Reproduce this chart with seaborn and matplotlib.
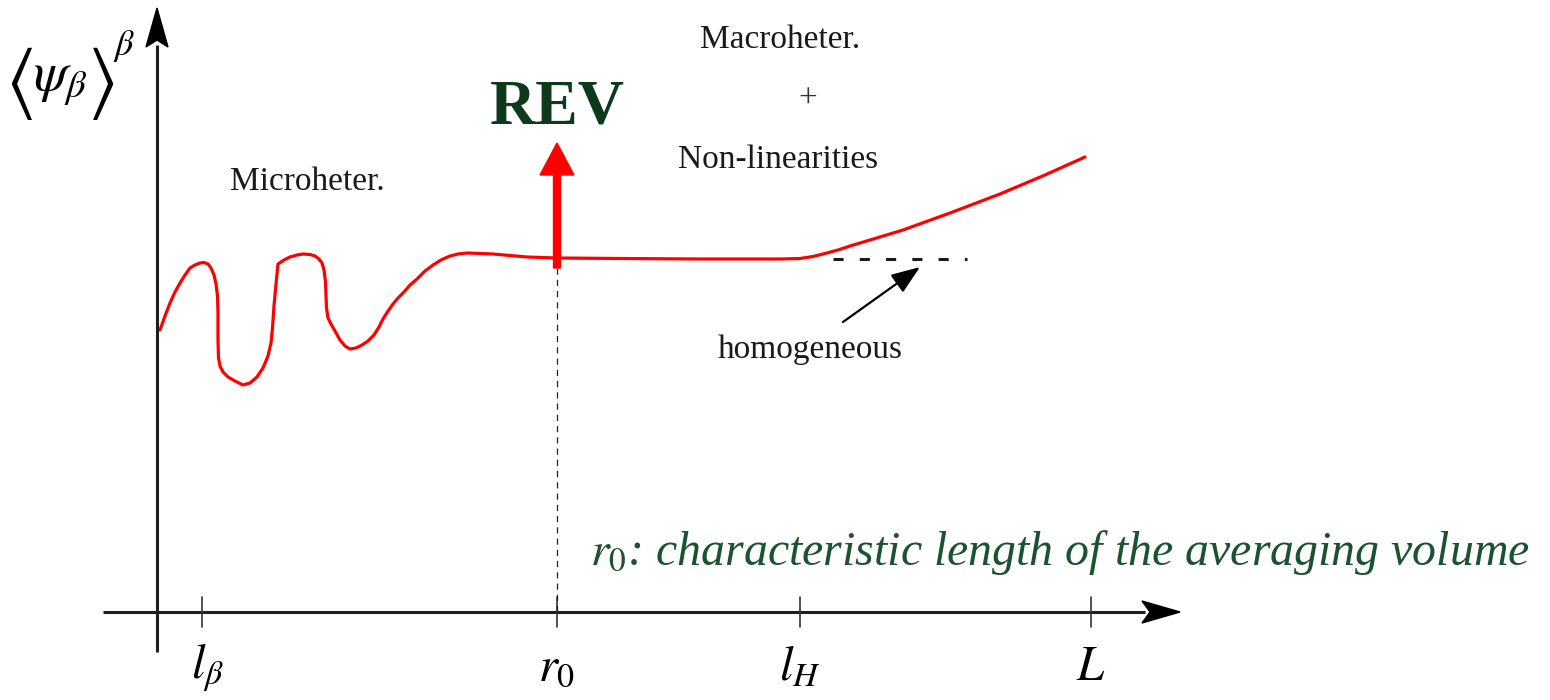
import matplotlib
matplotlib.use("Agg")
import matplotlib.pyplot as plt
import seaborn as sns
import pandas as pd

# ---- data (pixel-like units) ----
curve_x = [160, 165, 170, 175, 180, 185, 190, 195, 200, 204, 208, 211, 214, 216, 217.5, 218, 218, 218.5,
           220, 223, 228, 235, 243, 250, 257, 263, 268, 271, 272.5, 274, 276, 278, 284, 290,
           297, 303, 310, 315, 319, 322, 324, 325.5, 326, 326.5, 328, 331, 335, 340, 345, 350,
           356, 362, 368, 374, 379, 383, 388, 393, 398, 404, 410, 417, 425, 433, 441, 450,
           458, 467, 480, 493, 510, 527, 557, 620, 700, 780, 800, 813, 825, 838, 850, 870,
           903, 950, 1000, 1045, 1085]
curve_y = [330, 316, 303, 292, 283, 275, 268, 265, 263, 262.5, 264, 268, 275, 284, 296, 313, 340, 358,
           366, 372, 377, 381, 385, 383, 377, 368, 356, 343, 328, 306, 284, 264, 260, 257,
           255, 254, 254.5, 256, 259, 263, 270, 282, 295, 308, 318, 324, 331, 340, 346, 349,
           348, 345, 341, 335, 327, 319, 311, 304, 298, 292, 285, 279, 271, 265, 260, 256,
           254, 253, 253.5, 254, 255.5, 257, 258, 258.5, 259, 259, 258.5, 256.5, 253.5, 250, 246, 240,
           230, 213, 194, 175, 157]

tick_pos = [202, 557, 800, 1091]
tick_labels = [r"$l_\beta$", r"$r_0$", r"$l_H$", r"$L$"]

rev_x = 557
rev_base_y = 268
rev_tip_y = 143
homog_level = 259
homog_x = [833, 967]

region_labels = ["Microheter.", "Macroheter.", "+", "Non-linearities", "homogeneous"]
region_pos = [(307, 182), (780, 40), (808, 100), (778, 160), (810, 350)]

# ---- figure ----
sns.set_theme(style="white")
plt.rcParams["font.family"] = ["Liberation Serif", "DejaVu Serif"]

fig = plt.figure(figsize=(15.5, 7.0), dpi=100)
ax = fig.add_axes([0, 0, 1, 1])
ax.set_xlim(0, 1550)
ax.set_ylim(700, 0)

df = pd.DataFrame({"x": curve_x, "y": curve_y})
sns.lineplot(data=df, x="x", y="y", sort=False, estimator=None, color="#ff0000",
             linewidth=2.3, ax=ax)
ax.set_xlim(0, 1550)
ax.set_ylim(700, 0)
ax.axis("off")

axis_col = "#1e1e1e"
# y axis
ax.plot([157, 157], [652, 45], color=axis_col, lw=2.2, solid_capstyle="butt")
ax.add_patch(plt.Polygon([(157, 8), (146, 47), (157, 40), (168, 47)], closed=True,
                         color="black", zorder=5))
# x axis
ax.plot([103, 1145], [612, 612], color=axis_col, lw=2.2, solid_capstyle="butt")
ax.add_patch(plt.Polygon([(1180, 612), (1142, 601), (1150, 612), (1142, 623)], closed=True,
                         color="black", zorder=5))

# ticks
for tp in tick_pos:
    ax.plot([tp, tp], [597, 627], color="#333333", lw=1.2)
for tp, tl in zip(tick_pos, tick_labels):
    ax.text(tp + (6 if tl == r"$l_\beta$" else 0), 668, tl, ha="center", va="center",
            fontsize=35, math_fontfamily="stix", color="black")

# y label (pieces so the angle brackets can be taller)
ax.text(19, 83, r"$\langle$", ha="center", va="center", fontsize=56,
        math_fontfamily="stix", color="black")
ax.text(60, 82, r"$\psi_\beta$", ha="center", va="center", fontsize=40,
        math_fontfamily="stix", color="black")
ax.text(101, 83, r"$\rangle$", ha="center", va="center", fontsize=56,
        math_fontfamily="stix", color="black")
ax.text(124, 46, r"$\beta$", ha="center", va="center", fontsize=26,
        math_fontfamily="stix", color="black")

# vertical dashed line at r0
ax.plot([rev_x, rev_x], [rev_base_y, 612], color="#222222", lw=0.9,
        linestyle=(0, (5, 4)))

# REV arrow
ax.arrow(rev_x, rev_base_y, 0, rev_tip_y - rev_base_y, width=7, head_width=34,
         head_length=32, length_includes_head=True, color="#ff0000", zorder=4)
ax.text(rev_x, 108, "REV", ha="center", va="center", fontsize=46, fontweight="bold",
        color="#0d3a1b")

# homogeneous dashed line and arrow
ax.plot(homog_x, [homog_level, homog_level], color="#1a1a1a", lw=2.2,
        linestyle=(0, (3.3, 5.3)))
ax.annotate("", xy=(920, 267), xytext=(843, 322),
            arrowprops=dict(arrowstyle="-|>,head_length=0.8,head_width=0.3",
                            color="black", lw=1.6, mutation_scale=22,
                            shrinkA=0, shrinkB=0))

for lab, (px, py) in zip(region_labels, region_pos):
    ax.text(px, py, lab, ha="center", va="center", fontsize=24,
            color="#1a1a1a" if lab != "+" else "#333333")

# bottom note
ax.text(1530, 565, r"$\mathit{r_{0}}$: characteristic length of the averaging volume",
        ha="right", va="baseline", fontsize=34.5, fontstyle="italic", color="#1b5230",
        math_fontfamily="stix")

fig.savefig("out.png", dpi=100)
